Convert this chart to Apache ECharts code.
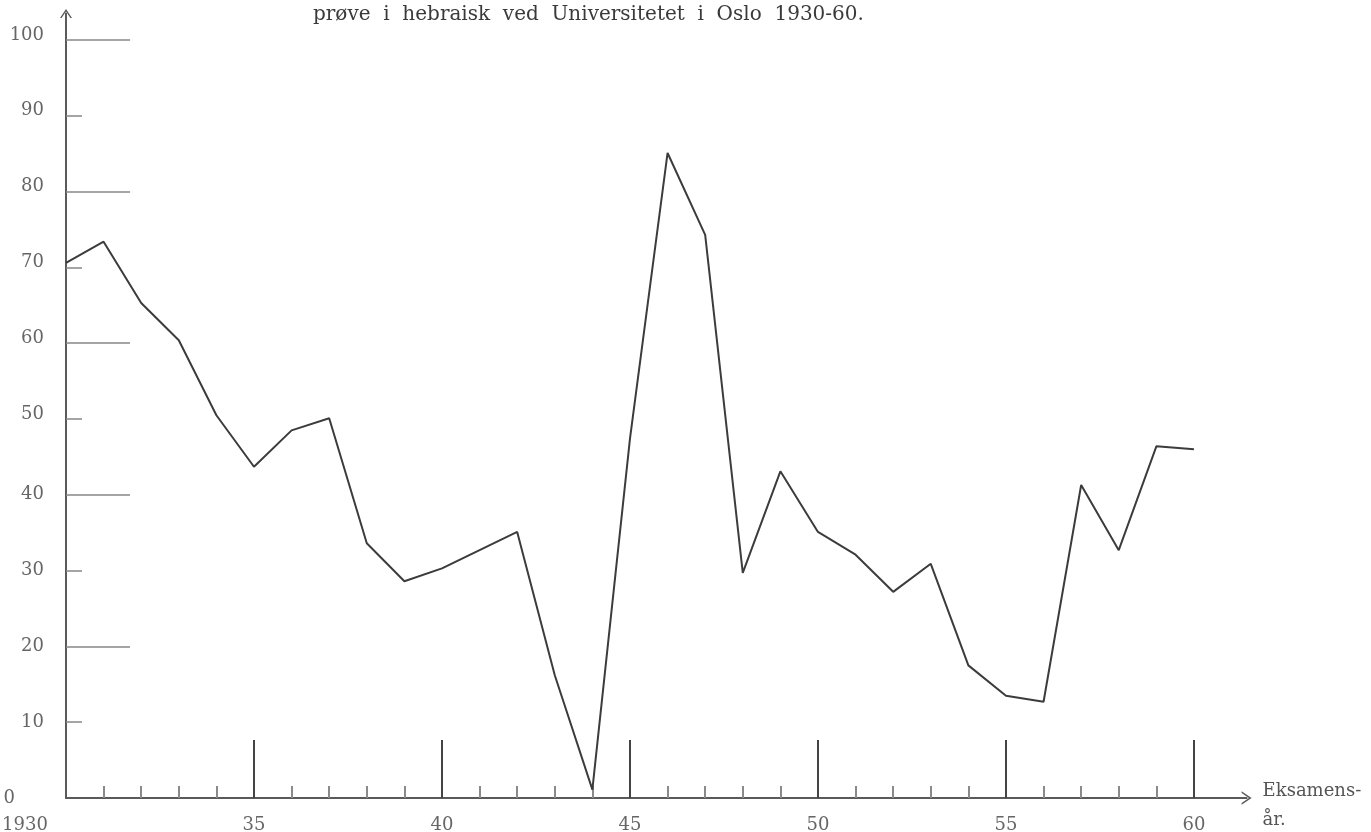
<!DOCTYPE html>
<html>
<head>
<meta charset="utf-8">
<script src="https://cdn.jsdelivr.net/npm/echarts@6/dist/echarts.min.js"></script>
<style>
html,body{margin:0;padding:0;background:#fff;}
#chart{width:1371px;height:832px;}
</style>
</head>
<body>
<div id="chart"></div>
<script>
// Data
const titleText = 'prøve  i  hebraisk  ved  Universitetet  i  Oslo  1930-60.';
const xAxisNameLines = ['Eksamens-', 'år.'];
const years = [1930,1931,1932,1933,1934,1935,1936,1937,1938,1939,1940,1941,1942,1943,1944,1945,
               1946,1947,1948,1949,1950,1951,1952,1953,1954,1955,1956,1957,1958,1959,1960];
const values = [70.6,73.4,65.3,60.4,50.5,43.7,48.5,50.1,33.6,28.6,30.3,32.7,35.1,16.2,1.1,47.4,
                85.1,74.3,29.7,43.1,35.1,32.1,27.2,30.9,17.5,13.5,12.7,41.3,32.7,46.4,46.0];
const xLabelYears = [1930,1935,1940,1945,1950,1955,1960];
const xMajorTicks = [1935,1940,1945,1950,1955,1960];
const xMinorTicks = [1931,1932,1933,1934,1936,1937,1938,1939,1941,1942,1943,1944,1946,1947,1948,1949,
                     1951,1952,1953,1954,1956,1957,1958,1959];
const yLabels = [0,10,20,30,40,50,60,70,80,90,100];
const yShortTicks = [10,30,50,70,90];
const yLongTicks = [20,40,60,80,100];

const serif = '"DejaVu Serif", "Liberation Serif", serif';
const chevron = 'path://M0,9 L6,0 L12,9 L10.4,9 L6,2.4 L1.6,9 Z';

const chart = echarts.init(document.getElementById('chart'));
chart.setOption({
  animation: false,
  backgroundColor: '#ffffff',
  title: {
    text: titleText,
    left: 308,
    top: 0,
    textStyle: {fontFamily: serif, fontSize: 20, fontWeight: 'normal', color: '#3a3a3a'}
  },
  grid: {left: 66, right: 124.4, top: 13.5, bottom: 34, containLabel: false, outerBoundsMode: 'none'},
  xAxis: [
    {
      type: 'value', min: 1930, max: 1961.4, position: 'bottom',
      name: '{e|\u200b}\n{a|' + xAxisNameLines[0] + '}\n{a|' + xAxisNameLines[1] + '}',
      nameLocation: 'end', nameGap: 16,
      nameTextStyle: {fontFamily: serif, fontSize: 18, color: '#555', align: 'left', verticalAlign: 'middle',
                      rich: {
                        e: {fontFamily: serif, fontSize: 10, lineHeight: 15},
                        a: {fontFamily: serif, fontSize: 18, color: '#555', lineHeight: 29}
                      }},
      axisLine: {show: true, onZero: false, symbol: ['none', chevron], symbolSize: [16, 10],
                 lineStyle: {color: '#5a5a5a', width: 2}},
      axisTick: {show: true, inside: true, length: 58, customValues: xMajorTicks, lineStyle: {color: '#444', width: 2}},
      axisLabel: {show: true, margin: 18, customValues: xLabelYears,
                  fontFamily: serif, fontSize: 18, color: '#666',
                  formatter: v => v === 1930 ? '{a|1930}' : String(v - 1900),
                  rich: {a: {fontFamily: serif, fontSize: 18, color: '#666', padding: [0, 82, 6, 0]}}},
      splitLine: {show: false}
    },
    {
      type: 'value', min: 1930, max: 1961.4, position: 'bottom',
      axisLine: {show: false, onZero: false},
      axisTick: {show: true, inside: true, length: 12, customValues: xMinorTicks, lineStyle: {color: '#8a8a8a', width: 2}},
      axisLabel: {show: false},
      splitLine: {show: false}
    }
  ],
  yAxis: [
    {
      type: 'value', min: 0, max: 103.5, position: 'left',
      axisLine: {show: true, onZero: false, symbol: ['none', chevron], symbolSize: [16, 9],
                 lineStyle: {color: '#5a5a5a', width: 2}},
      axisTick: {show: true, inside: true, length: 16, customValues: yShortTicks, lineStyle: {color: '#888', width: 1.5}},
      axisLabel: {show: true, margin: 22, customValues: yLabels,
                  fontFamily: serif, fontSize: 18, color: '#666',
                  formatter: v => v === 0 ? '{z|0}' : (v >= 50 ? '{h|' + v + '}' : String(v)),
                  rich: {
                    z: {fontFamily: serif, fontSize: 18, color: '#666', padding: [0, 29, 0, 0]},
                    h: {fontFamily: serif, fontSize: 18, color: '#666', padding: [0, 0, 10, 0]}
                  }},
      splitLine: {show: false}
    },
    {
      type: 'value', min: 0, max: 103.5, position: 'left',
      axisLine: {show: false, onZero: false},
      axisTick: {show: true, inside: true, length: 64, customValues: yLongTicks, lineStyle: {color: '#888', width: 1.5}},
      axisLabel: {show: false},
      splitLine: {show: false}
    }
  ],
  series: [{
    type: 'line',
    xAxisIndex: 0, yAxisIndex: 0,
    data: years.map((y, i) => [y, values[i]]),
    showSymbol: false,
    symbol: 'none',
    lineStyle: {color: '#3c3c3c', width: 2},
    z: 5
  }]
});
</script>
</body>
</html>
